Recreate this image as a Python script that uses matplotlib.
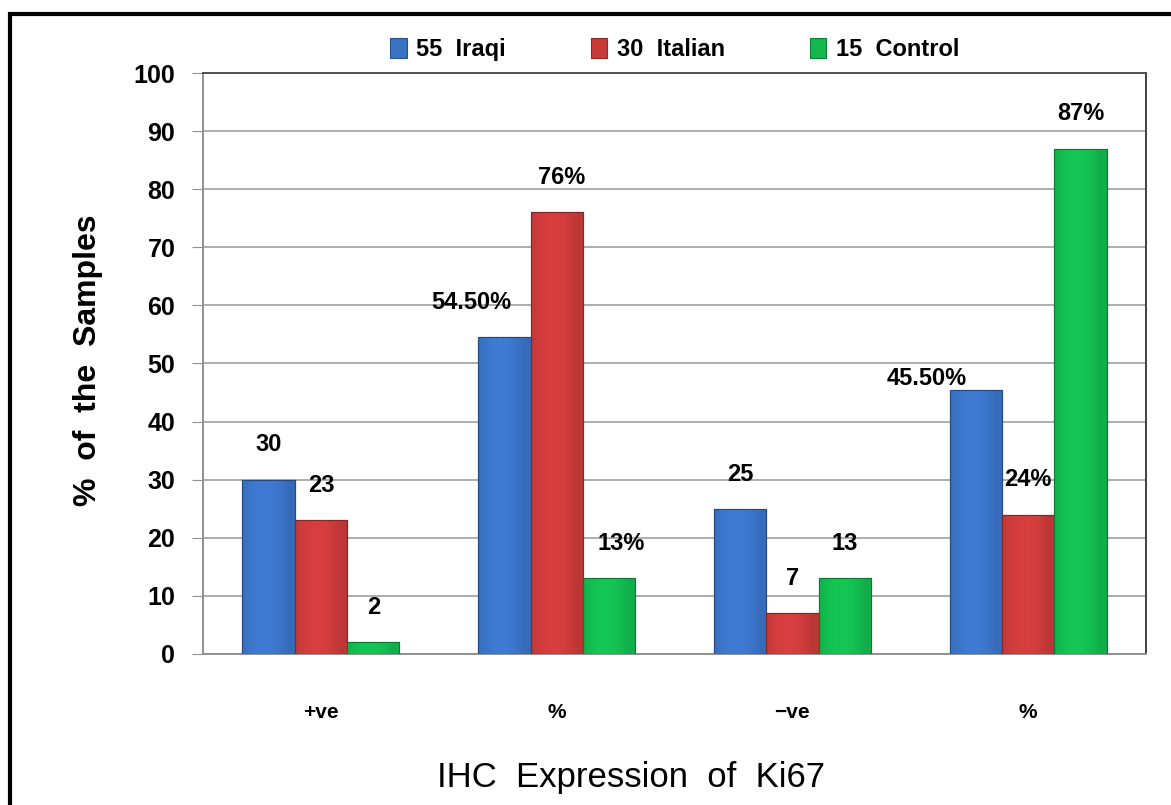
import numpy as np
import matplotlib.pyplot as plt
from matplotlib.patches import Rectangle
from matplotlib.colors import to_rgb

# categories and series
categories = ["+ve", "%", "\u2212ve", "%"]
series_names = ["55  Iraqi", "30  Italian", "15  Control"]
iraqi = [30, 54.5, 25, 45.5]
italian = [23, 76, 7, 24]
control = [2, 13, 13, 87]
iraqi_labels = ["30", "54.50%", "25", "45.50%"]
italian_labels = ["23", "76%", "7", "24%"]
control_labels = ["2", "13%", "13", "87%"]

colors = ["#3a72c4", "#c83a3a", "#12b84e"]
FONT = "Liberation Sans"

fig = plt.figure(figsize=(11.71, 8.05), dpi=100)
ax = fig.add_axes([0.1734, 0.1876, 0.8053, 0.7217])

width = 0.222
offsets = [-width, 0, width]
x = np.arange(len(categories))


def shade_bar(ax, bar, color):
    # horizontal shading across the bar face
    r, g, b = to_rgb(color)
    t = np.linspace(0, 1, 64)
    light = 1 - 0.55 * (2 * np.abs(t - 0.42)) ** 2
    light = np.clip(light, 0.55, 1.0)
    img = np.zeros((1, 64, 3))
    for i, c in enumerate((r, g, b)):
        img[0, :, i] = np.clip(c * (0.78 + 0.3 * light), 0, 1)
    x0, y0 = bar.get_x(), bar.get_y()
    w, h = bar.get_width(), bar.get_height()
    im = ax.imshow(img, extent=[x0, x0 + w, y0, y0 + h], aspect="auto",
                   zorder=3, interpolation="bicubic")
    im.set_clip_path(bar)


all_vals = [iraqi, italian, control]
all_labels = [iraqi_labels, italian_labels, control_labels]
for k, (vals, col) in enumerate(zip(all_vals, colors)):
    bars = ax.bar(x + offsets[k], vals, width, color=col, zorder=2,
                  edgecolor=tuple(c * 0.7 for c in to_rgb(col)), linewidth=0.8,
                  label=series_names[k])
    for b in bars:
        shade_bar(ax, b, col)
        # darker outline on top of the shading
        ax.add_patch(Rectangle((b.get_x(), 0), b.get_width(), b.get_height(),
                               fill=False, zorder=4, linewidth=0.8,
                               edgecolor=tuple(c * 0.65 for c in to_rgb(col))))

# value labels, nudged where the original layout has them off-centre
label_dx = {(1, 0): -0.14, (1, 1): 0.02, (1, 2): 0.05, (3, 0): -0.21}
label_dy = {(3, 0): -4}
for k in range(3):
    for i in range(len(categories)):
        v = all_vals[k][i]
        dx = label_dx.get((i, k), 0)
        dy = label_dy.get((i, k), 0)
        ax.text(x[i] + offsets[k] + dx, v + 4.0 + dy, all_labels[k][i],
                ha="center", va="bottom", fontsize=17, fontweight="bold",
                family=FONT, zorder=6)

ax.set_xlim(-0.5, 3.5)
ax.set_ylim(0, 100)
ax.set_yticks(np.arange(0, 101, 10))
ax.set_xticks(x)
ax.set_xticklabels(categories, fontsize=15, fontweight="bold", family=FONT)
for lab in ax.get_yticklabels():
    lab.set_fontsize(18)
    lab.set_fontweight("bold")
    lab.set_family(FONT)

ax.grid(axis="y", color="#a0a0a0", linewidth=1.2, zorder=0)
ax.set_axisbelow(True)
ax.tick_params(axis="y", length=8, color="#909090", pad=12)
ax.tick_params(axis="x", length=0, pad=35)
ax.spines["left"].set_color("#909090")
ax.spines["bottom"].set_color("#909090")
ax.spines["right"].set_color("#404040")
ax.spines["top"].set_color("#505050")
for s in ax.spines.values():
    s.set_linewidth(1.4)

ax.set_ylabel("%  of  the  Samples", fontsize=23, fontweight="bold",
              family=FONT, va="center")
ax.yaxis.set_label_coords(-0.122, 0.505)
ax.set_xlabel("IHC  Expression  of  Ki67", fontsize=25, family=FONT,
              va="center")
ax.xaxis.set_label_coords(0.454, -0.212)

ax.legend(loc="center", bbox_to_anchor=(0.5, 1.04), ncol=3,
          frameon=False, prop={"family": FONT, "size": 17, "weight": "bold"},
          handlelength=0.7, handleheight=0.9, handletextpad=0.4,
          columnspacing=3.6)

# outer frame
fig.patches.append(Rectangle((10 / 1171, -0.1), 1.2, (805 - 14) / 805 + 0.1,
                             transform=fig.transFigure, fill=False,
                             edgecolor="black", linewidth=3, zorder=10))

fig.savefig("out.png", dpi=100)
